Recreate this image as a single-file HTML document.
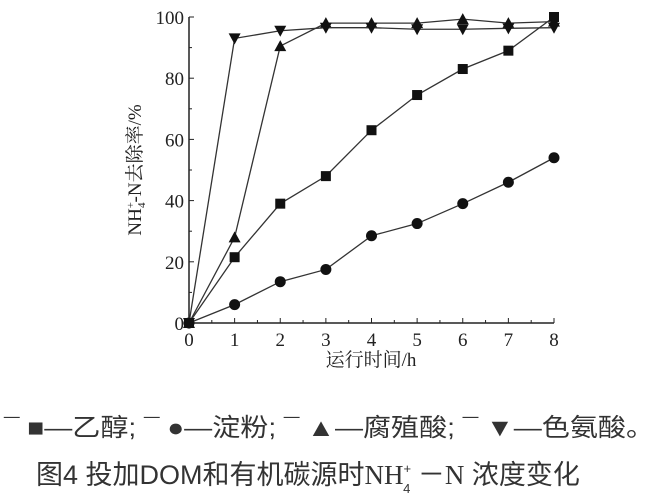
<!DOCTYPE html>
<html><head><meta charset="utf-8"><style>
body{margin:0;background:#fff;width:659px;height:494px;overflow:hidden}
svg{position:absolute;left:0;top:0}
.t{font-family:"Liberation Serif","Noto Serif CJK SC",serif;font-size:19px;fill:#222}
.cap{font-family:"Liberation Sans","Noto Sans CJK SC",sans-serif;fill:#333}
</style></head><body>
<svg width="659" height="494">
<g id="plot"></g>
<text class="cap" x="4" y="436" font-size="25" textLength="650" lengthAdjust="spacingAndGlyphs">¯ ■—乙醇; ¯ ●—淀粉; ¯ ▲—腐殖酸; ¯ ▼—色氨酸。</text>
<text class="cap" x="36" y="484" font-size="27">图4 投加DOM和有机碳源时<tspan font-family="Liberation Serif,serif">NH</tspan><tspan font-size="13" dy="-11">+</tspan><tspan font-size="13" dx="-8" dy="20">4</tspan><tspan dy="-9"> －</tspan><tspan font-family="Liberation Serif,serif">N</tspan> 浓度变化</text>
</svg>
<script>
const xTicks=[0,1,2,3,4,5,6,7,8];
const yTicks=[0,20,40,60,80,100];
const hours=[0,1,2,3,4,5,6,7,8];
const ethanol=[0,21.5,39,48,63,74.5,83,89,100];
const starch=[0,6,13.5,17.5,28.5,32.5,39,46,54];
const humic=[0,28,90.5,98,98,98,99.3,98,98.5];
const tryptophan=[0,93,95.5,96.5,96.5,96,96,96.3,96.5];
const X0=189,X1=554,Y0=323,Y1=17;
const sx=v=>X0+(v-0)/8*(X1-X0);
const sy=v=>Y0-(v/100)*(Y0-Y1);
const NS='http://www.w3.org/2000/svg';
const g=document.getElementById('plot');
function mk(t,a){const e=document.createElementNS(NS,t);for(const k in a)e.setAttribute(k,a[k]);g.appendChild(e);return e;}
let ax=mk('line',{x1:X0,y1:Y0,x2:X1,y2:Y0,stroke:'#222','stroke-width':1.5});


let ay=mk('line',{x1:X0,y1:Y0,x2:X0,y2:Y1,stroke:'#222','stroke-width':1.5});


xTicks.forEach(v=>{
 mk('line',{x1:sx(v),y1:Y0,x2:sx(v),y2:Y0-5,stroke:'#222'});
 if(v<8)mk('line',{x1:sx(v+0.5),y1:Y0,x2:sx(v+0.5),y2:Y0-3,stroke:'#222'});
 const t=mk('text',{x:sx(v),y:Y0+23,'text-anchor':'middle',class:'t'});t.textContent=v;
 
 
});
yTicks.forEach(v=>{
 mk('line',{x1:X0,y1:sy(v),x2:X0+5,y2:sy(v),stroke:'#222'});
 if(v<100)mk('line',{x1:X0,y1:sy(v+10),x2:X0+3,y2:sy(v+10),stroke:'#222'});
 const t=mk('text',{x:X0-5,y:sy(v)+7,'text-anchor':'end',class:'t'});t.textContent=v;
 
 
});
let xt=mk('text',{x:371,y:366,'text-anchor':'middle',class:'t'});xt.textContent='运行时间/h';


let yt=mk('text',{x:0,y:0,'text-anchor':'middle',class:'t',transform:'translate(141,170) rotate(-90)'});
yt.innerHTML='NH<tspan font-size="11" dy="-7">+</tspan><tspan font-size="11" dx="-6" dy="11">4</tspan><tspan dy="-4">-N去除率/%</tspan>';


function marker(shape,x,y){
 let e;
 if(shape=='sq')e=mk('rect',{x:x-5,y:y-5,width:10,height:10,fill:'#111'});
 else if(shape=='ci')e=mk('circle',{cx:x,cy:y,r:5.5,fill:'#111'});
 else if(shape=='up')e=mk('polygon',{points:`${x},${y-6} ${x-6},${y+5} ${x+6},${y+5}`,fill:'#111'});
 else e=mk('polygon',{points:`${x},${y+6} ${x-6},${y-5} ${x+6},${y-5}`,fill:'#111'});
 return e;
}
[[ethanol,'sq','ethanol'],[starch,'ci','starch'],[humic,'up','humic-acid'],[tryptophan,'dn','tryptophan']].forEach(([d,s,n])=>{
 const p=mk('polyline',{points:hours.map((h,i)=>sx(h)+','+sy(d[i])).join(' '),fill:'none',stroke:'#333','stroke-width':1.3});
 
 
 hours.forEach((h,i)=>{const m=marker(s,sx(h),sy(d[i]));
 
 });
});
</script>
</body></html>
